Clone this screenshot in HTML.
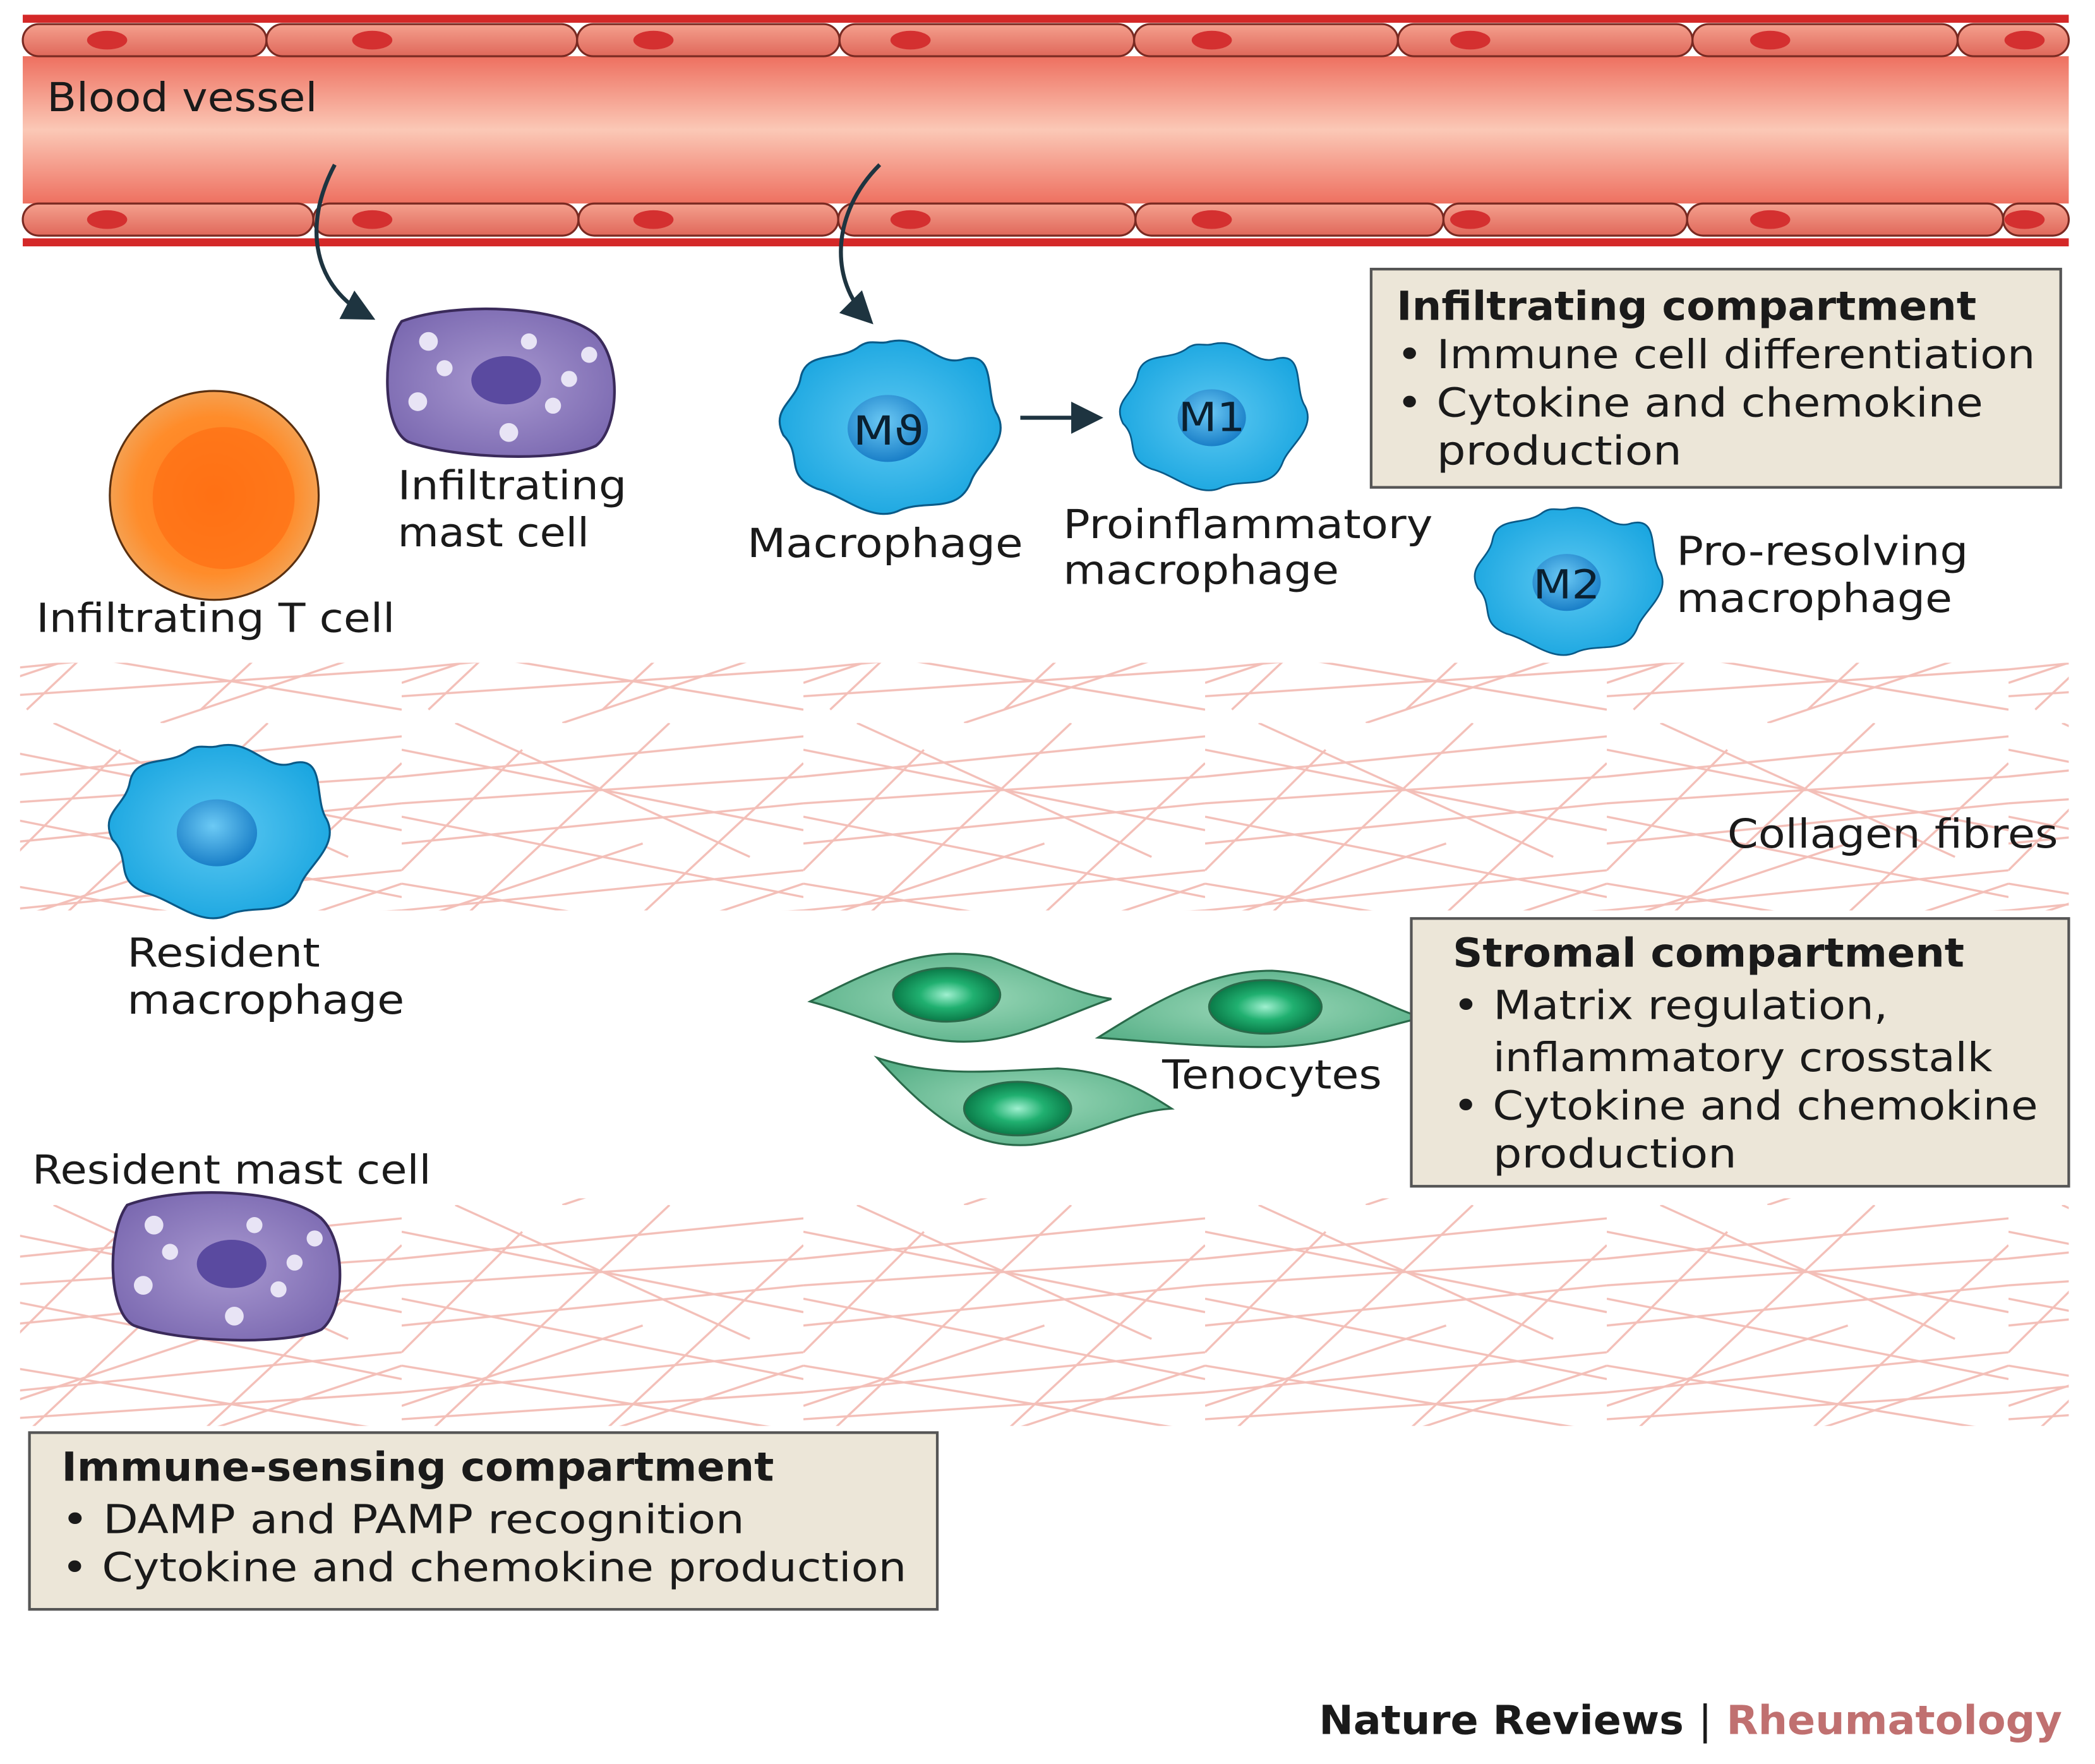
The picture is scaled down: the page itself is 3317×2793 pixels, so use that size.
<!DOCTYPE html>
<html><head><meta charset="utf-8"><style>html,body{margin:0;padding:0;background:#fff}svg{display:block}</style></head>
<body>
<svg width="3317" height="2793" viewBox="0 0 1564.6 1317.5" preserveAspectRatio="none" xmlns="http://www.w3.org/2000/svg" font-family="DejaVu Sans, Liberation Sans, sans-serif">
<defs>
<linearGradient id="lumen" x1="0" y1="0" x2="0" y2="1">
<stop offset="0" stop-color="#ee7060"/><stop offset="0.5" stop-color="#fbc8b6"/><stop offset="1" stop-color="#ee7060"/>
</linearGradient>
<linearGradient id="ec" x1="0" y1="0" x2="0" y2="1">
<stop offset="0" stop-color="#f4a08e"/><stop offset="1" stop-color="#e0685a"/>
</linearGradient>
<radialGradient id="tcell" cx="0.5" cy="0.5" r="0.5"><stop offset="0" stop-color="#ff7a1a"/><stop offset="0.75" stop-color="#ff8c2a"/><stop offset="1" stop-color="#f5a050"/></radialGradient>
<radialGradient id="mac" cx="0.5" cy="0.5" r="0.55"><stop offset="0" stop-color="#5cc8f2"/><stop offset="1" stop-color="#1aa6e0"/></radialGradient>
<radialGradient id="nuc" cx="0.45" cy="0.4" r="0.6"><stop offset="0" stop-color="#6ccaf5"/><stop offset="1" stop-color="#1a7fc8"/></radialGradient>
<radialGradient id="mast" cx="0.5" cy="0.5" r="0.6"><stop offset="0" stop-color="#a898d0"/><stop offset="1" stop-color="#7a68b0"/></radialGradient>
<radialGradient id="teno" cx="0.5" cy="0.5" r="0.6"><stop offset="0" stop-color="#9ad8b8"/><stop offset="1" stop-color="#58b088"/></radialGradient>
<radialGradient id="tnuc" cx="0.5" cy="0.5" r="0.5"><stop offset="0" stop-color="#a0f0d0"/><stop offset="0.5" stop-color="#20b070"/><stop offset="1" stop-color="#0a7a48"/></radialGradient>
<pattern id="fib" width="300" height="180" patternUnits="userSpaceOnUse">
<g stroke="#f2b8b0" stroke-width="1.6" fill="none" opacity="0.9">
<line x1="0" y1="40" x2="300" y2="10"/><line x1="0" y1="90" x2="300" y2="60"/><line x1="0" y1="140" x2="300" y2="110"/>
<line x1="0" y1="20" x2="300" y2="80"/><line x1="0" y1="70" x2="300" y2="130"/><line x1="0" y1="120" x2="300" y2="170"/>
<line x1="20" y1="170" x2="200" y2="0"/><line x1="150" y1="170" x2="300" y2="30"/><line x1="0" y1="110" x2="90" y2="20"/>
<line x1="0" y1="60" x2="300" y2="40"/><line x1="0" y1="160" x2="300" y2="140"/><line x1="40" y1="0" x2="260" y2="100"/>
<line x1="0" y1="150" x2="180" y2="90"/><line x1="120" y1="180" x2="300" y2="120"/>
</g>
</pattern>
<marker id="ah" markerWidth="8" markerHeight="8" refX="6" refY="4" orient="auto" markerUnits="strokeWidth"><path d="M0,0 L8,4 L0,8 z" fill="#1e3440"/></marker>
<g id="macc">
<path d="M665,255 C690,250 700,275 720,268 C745,262 735,295 745,310 C755,330 730,345 725,360 C715,385 690,372 670,382 C650,390 630,370 610,365 C585,355 600,340 585,325 C575,305 595,300 598,282 C602,262 625,270 640,260 C650,252 655,258 665,255z" fill="url(#mac)" stroke="#0a5a88" stroke-width="1.5"/>
<ellipse cx="663" cy="320" rx="30" ry="25" fill="url(#nuc)"/>
</g>
<g id="mastc">
<path d="M300,240 C340,225 420,228 445,250 C465,270 462,320 445,333 C420,345 340,343 305,330 C285,320 285,260 300,240z" fill="url(#mast)" stroke="#3a2a5a" stroke-width="2"/>
<ellipse cx="378" cy="284" rx="26" ry="18" fill="#5a4aa0"/>
<g fill="#e8e4f5"><circle cx="320" cy="255" r="7"/><circle cx="332" cy="275" r="6"/><circle cx="312" cy="300" r="7"/><circle cx="395" cy="255" r="6"/><circle cx="440" cy="265" r="6"/><circle cx="425" cy="283" r="6"/><circle cx="413" cy="303" r="6"/><circle cx="380" cy="323" r="7"/></g>
</g>
</defs>

<rect x="15" y="495" width="1530" height="185" fill="url(#fib)"/>
<rect x="15" y="895" width="1530" height="170" fill="url(#fib)"/>

<rect x="17" y="11" width="1528" height="6" fill="#d42828"/>
<rect x="17" y="178" width="1528" height="6" fill="#d42828"/>
<rect x="17" y="42" width="1528" height="110" fill="url(#lumen)"/>
<g stroke="#7a2a22" stroke-width="1.5" fill="url(#ec)">
<rect x="17" y="18" width="182" height="24" rx="12"/><rect x="199" y="18" width="232" height="24" rx="12"/><rect x="431" y="18" width="196" height="24" rx="12"/><rect x="627" y="18" width="220" height="24" rx="12"/><rect x="847" y="18" width="197" height="24" rx="12"/><rect x="1044" y="18" width="220" height="24" rx="12"/><rect x="1264" y="18" width="198" height="24" rx="12"/><rect x="1462" y="18" width="83" height="24" rx="12"/>
<rect x="17" y="152" width="217" height="24" rx="12"/><rect x="234" y="152" width="198" height="24" rx="12"/><rect x="432" y="152" width="194" height="24" rx="12"/><rect x="626" y="152" width="222" height="24" rx="12"/><rect x="848" y="152" width="230" height="24" rx="12"/><rect x="1078" y="152" width="182" height="24" rx="12"/><rect x="1260" y="152" width="236" height="24" rx="12"/><rect x="1496" y="152" width="49" height="24" rx="12"/>
</g>
<g fill="#d43030">
<ellipse cx="80" cy="30" rx="15" ry="7"/><ellipse cx="278" cy="30" rx="15" ry="7"/><ellipse cx="488" cy="30" rx="15" ry="7"/><ellipse cx="680" cy="30" rx="15" ry="7"/><ellipse cx="905" cy="30" rx="15" ry="7"/><ellipse cx="1098" cy="30" rx="15" ry="7"/><ellipse cx="1322" cy="30" rx="15" ry="7"/><ellipse cx="1512" cy="30" rx="15" ry="7"/>
<ellipse cx="80" cy="164" rx="15" ry="7"/><ellipse cx="278" cy="164" rx="15" ry="7"/><ellipse cx="488" cy="164" rx="15" ry="7"/><ellipse cx="680" cy="164" rx="15" ry="7"/><ellipse cx="905" cy="164" rx="15" ry="7"/><ellipse cx="1098" cy="164" rx="15" ry="7"/><ellipse cx="1322" cy="164" rx="15" ry="7"/><ellipse cx="1512" cy="164" rx="15" ry="7"/>
</g>

<path d="M250,123 C225,170 235,215 275,236" stroke="#1e3440" stroke-width="3" fill="none" marker-end="url(#ah)"/>
<path d="M657,123 C620,160 620,210 648,238" stroke="#1e3440" stroke-width="3" fill="none" marker-end="url(#ah)"/>
<line x1="762" y1="312" x2="818" y2="312" stroke="#1e3440" stroke-width="3" marker-end="url(#ah)"/>

<circle cx="160" cy="370" r="78" fill="url(#tcell)" stroke="#5a3010" stroke-width="1.5"/>
<circle cx="167" cy="372" r="53" fill="#ff6a10" opacity="0.6"/>

<use href="#mastc"/>
<use href="#mastc" transform="translate(-205,660)"/>

<use href="#macc"/>
<use href="#macc" transform="translate(905,312) scale(0.85) translate(-663,-320)"/>
<use href="#macc" transform="translate(1170,435) scale(0.85) translate(-663,-320)"/>
<use href="#macc" transform="translate(162,622) scale(1) translate(-663,-320)"/>

<g stroke="#2a6a4a" stroke-width="1.5">
<path d="M605,748 C650,725 690,705 740,715 C770,725 800,742 830,746 C790,760 760,778 720,778 C680,778 650,760 605,748z" fill="url(#teno)"/>
<ellipse cx="707" cy="743" rx="40" ry="20" fill="url(#tnuc)"/>
<path d="M820,775 C860,750 900,725 950,725 C1000,728 1030,750 1062,760 C1020,770 990,782 945,782 C900,782 860,778 820,775z" fill="url(#teno)"/>
<ellipse cx="945" cy="752" rx="42" ry="20" fill="url(#tnuc)"/>
<path d="M655,790 C700,805 740,800 790,798 C830,800 855,815 875,828 C840,830 810,850 770,855 C730,858 700,840 655,790z" fill="url(#teno)"/>
<ellipse cx="760" cy="828" rx="40" ry="20" fill="url(#tnuc)"/>
</g>

<g fill="#ece6d8" stroke="#555" stroke-width="2">
<rect x="1024" y="201" width="515" height="163"/>
<rect x="1054" y="686" width="491" height="200"/>
<rect x="22" y="1070" width="678" height="132"/>
</g>

<g font-size="30" fill="#1a1a1a" lengthAdjust="spacingAndGlyphs">
<text x="35" y="83" textLength="202" lengthAdjust="spacingAndGlyphs">Blood vessel</text>
<text x="27" y="472" textLength="268" lengthAdjust="spacingAndGlyphs">Infiltrating T cell</text>
<text x="297" y="373" textLength="171" lengthAdjust="spacingAndGlyphs">Infiltrating</text>
<text x="297" y="408" textLength="143" lengthAdjust="spacingAndGlyphs">mast cell</text>
<text x="24" y="884" textLength="298" lengthAdjust="spacingAndGlyphs">Resident mast cell</text>
<text x="637" y="332" textLength="53" lengthAdjust="spacingAndGlyphs" fill="#0a2030">Mϑ</text>
<text x="558" y="416" textLength="206" lengthAdjust="spacingAndGlyphs">Macrophage</text>
<text x="880" y="322" textLength="50" lengthAdjust="spacingAndGlyphs" fill="#0a2030">M1</text>
<text x="794" y="402" textLength="276" lengthAdjust="spacingAndGlyphs">Proinflammatory</text>
<text x="794" y="436" textLength="206" lengthAdjust="spacingAndGlyphs">macrophage</text>
<text x="1145" y="447" textLength="50" lengthAdjust="spacingAndGlyphs" fill="#0a2030">M2</text>
<text x="1252" y="422" textLength="218" lengthAdjust="spacingAndGlyphs">Pro-resolving</text>
<text x="1252" y="457" textLength="206" lengthAdjust="spacingAndGlyphs">macrophage</text>
<text x="95" y="722" textLength="144" lengthAdjust="spacingAndGlyphs">Resident</text>
<text x="95" y="757" textLength="207" lengthAdjust="spacingAndGlyphs">macrophage</text>
<text x="1290" y="633" textLength="247" lengthAdjust="spacingAndGlyphs">Collagen fibres</text>
<text x="868" y="813" textLength="164" lengthAdjust="spacingAndGlyphs">Tenocytes</text>

<text x="1043" y="239" font-weight="bold" textLength="433" lengthAdjust="spacingAndGlyphs">Infiltrating compartment</text>
<text x="1043" y="275" textLength="477" lengthAdjust="spacingAndGlyphs">• Immune cell differentiation</text>
<text x="1043" y="311" textLength="438" lengthAdjust="spacingAndGlyphs">• Cytokine and chemokine</text>
<text x="1073" y="347" textLength="183" lengthAdjust="spacingAndGlyphs">production</text>
<text x="1085" y="722" font-weight="bold" textLength="382" lengthAdjust="spacingAndGlyphs">Stromal compartment</text>
<text x="1085" y="761" textLength="325" lengthAdjust="spacingAndGlyphs">• Matrix regulation,</text>
<text x="1115" y="800" textLength="373" lengthAdjust="spacingAndGlyphs">inflammatory crosstalk</text>
<text x="1085" y="836" textLength="437" lengthAdjust="spacingAndGlyphs">• Cytokine and chemokine</text>
<text x="1115" y="872" textLength="182" lengthAdjust="spacingAndGlyphs">production</text>
<text x="46" y="1106" font-weight="bold" textLength="532" lengthAdjust="spacingAndGlyphs">Immune-sensing compartment</text>
<text x="46" y="1145" textLength="510" lengthAdjust="spacingAndGlyphs">• DAMP and PAMP recognition</text>
<text x="46" y="1181" textLength="631" lengthAdjust="spacingAndGlyphs">• Cytokine and chemokine production</text>
<text x="985" y="1295" font-weight="bold" textLength="555" lengthAdjust="spacingAndGlyphs">Nature Reviews <tspan font-weight="normal">|</tspan> <tspan fill="#c07070">Rheumatology</tspan></text>
</g>
</svg>
</body></html>
